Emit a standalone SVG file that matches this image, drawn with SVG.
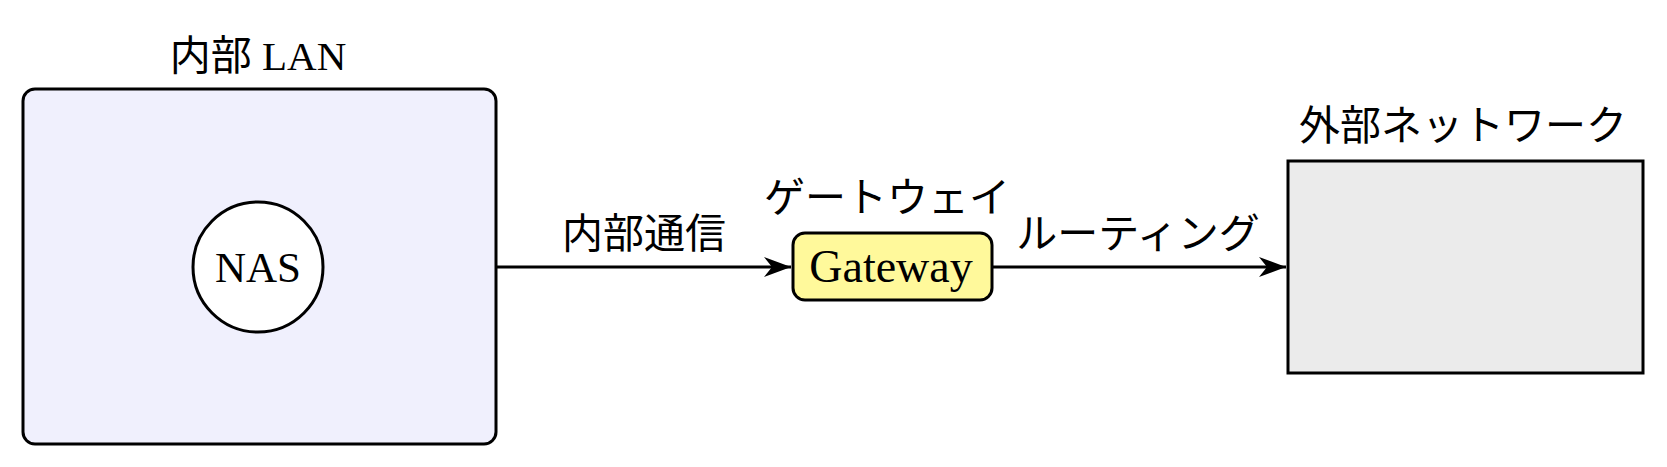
<svg xmlns="http://www.w3.org/2000/svg" width="1667" height="467" viewBox="0 0 1667 467">
<style>
.lbl{font-family:"Liberation Serif","Noto Sans CJK JP",serif;font-size:41px;fill:#000;text-anchor:middle}
.edge{stroke:#000;stroke-width:3;fill:none}
</style>
<defs>
<marker id="arr" markerUnits="userSpaceOnUse" markerWidth="30" markerHeight="24" viewBox="-28 -12 30 24" refX="0" refY="0" orient="auto">
<path d="M0,0 L-27,-10 L-19,0 L-27,10 Z" fill="#000"/>
</marker>
</defs>
<rect width="1667" height="467" fill="#fff"/>
<g id="lan">
<rect x="23" y="89" width="473" height="355" rx="12" fill="#f0f0fd" stroke="#000" stroke-width="3"/>
<text class="lbl" x="258" y="70">内部 LAN</text>
</g>
<g id="nas">
<circle cx="258" cy="267" r="65" fill="#fff" stroke="#000" stroke-width="3"/>
<text class="lbl" x="258" y="282" style="font-size:43px">NAS</text>
</g>
<g id="gateway">
<rect x="793" y="233" width="199" height="67" rx="12" fill="#fff99b" stroke="#000" stroke-width="3"/>
<text class="lbl" x="891" y="282" style="font-size:46px">Gateway</text>
<text class="lbl" x="887" y="212">ゲートウェイ</text>
</g>
<g id="external">
<rect x="1288" y="161" width="355" height="212" fill="#ebebeb" stroke="#000" stroke-width="3"/>
<text class="lbl" x="1463" y="140">外部ネットワーク</text>
</g>
<g id="connectors">
<line class="edge" x1="497" y1="267" x2="791" y2="267" marker-end="url(#arr)"/>
<text class="lbl" x="644" y="248">内部通信</text>
<line class="edge" x1="993" y1="267" x2="1286" y2="267" marker-end="url(#arr)"/>
<text class="lbl" x="1138" y="248">ルーティング</text>
</g>
</svg>
